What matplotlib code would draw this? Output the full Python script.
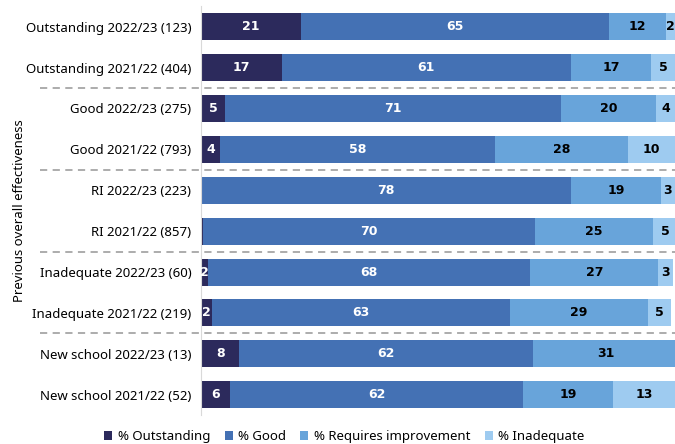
import matplotlib.pyplot as plt
import numpy as np

plt.rcParams["font.family"] = ["Noto Sans", "DejaVu Sans"]

categories = ['Outstanding 2022/23 (123)', 'Outstanding 2021/22 (404)',
              'Good 2022/23 (275)', 'Good 2021/22 (793)',
              'RI 2022/23 (223)', 'RI 2021/22 (857)',
              'Inadequate 2022/23 (60)', 'Inadequate 2021/22 (219)',
              'New school 2022/23 (13)', 'New school 2021/22 (52)']
outstanding = [21, 17, 5, 4, 0, 0.4, 1.5, 2.2, 8, 6]
good = [65, 61, 71, 58, 78, 70, 68, 63, 62, 62]
requires_improvement = [12, 17, 20, 28, 19, 25, 27, 29, 31, 19]
inadequate = [2, 5, 4, 10, 3, 5, 3, 5, 0, 13]

series = [('% Outstanding', outstanding, '#2c2a5c', 'white'),
          ('% Good', good, '#4471b4', 'white'),
          ('% Requires improvement', requires_improvement, '#68a4da', 'black'),
          ('% Inadequate', inadequate, '#9ecbf0', 'black')]

fig = plt.figure(figsize=(6.75, 4.44), dpi=100)
ax = fig.add_axes([0.298, 0.065, 0.702, 0.921])

y = np.arange(len(categories))
left = np.zeros(len(categories))
for name, vals, col, tcol in series:
    vals = np.array(vals, dtype=float)
    ax.barh(y, vals, left=left, height=0.66, color=col, label=name)
    for yi, l, v in zip(y, left, vals):
        if v >= 1:
            ax.text(l + v / 2, yi, '%d' % round(v), ha='center', va='center',
                    color=tcol, fontsize=9, fontweight='bold',
                    family='DejaVu Sans')
    left += vals

ax.set_xlim(0, 100)
ax.set_ylim(len(categories) - 0.5, -0.5)
ax.set_yticks(y)
ax.set_yticklabels(categories, fontsize=9.5)
ax.tick_params(axis='y', length=0, pad=7)
ax.set_xticks([])
for s in ['top', 'right', 'bottom']:
    ax.spines[s].set_visible(False)
ax.spines['left'].set_color('#d9d9d9')

# dashed separators between groups
for yy in [1.5, 3.5, 5.5, 7.5]:
    ax.plot([-34, 100], [yy, yy], ls=(0, (4, 3)), color='#a6a6a6', lw=1.3,
            clip_on=False)

ax.set_ylabel('Previous overall effectiveness', fontsize=9.5)
ax.yaxis.set_label_coords(-0.37, 0.5)

fig.legend(loc='lower center', bbox_to_anchor=(0.51, -0.025), ncol=4,
           frameon=False, fontsize=9.5, handlelength=0.6, handleheight=0.6,
           handletextpad=0.4, columnspacing=1.1)

fig.savefig('out.png')
